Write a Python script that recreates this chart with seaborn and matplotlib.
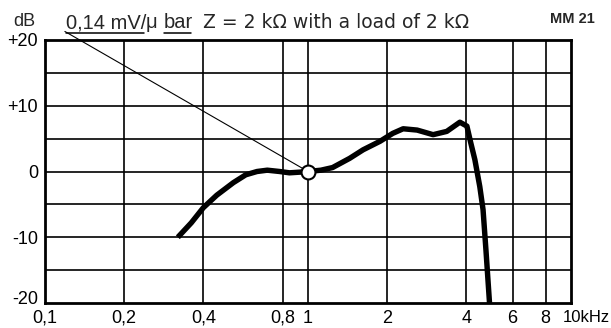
import matplotlib
matplotlib.use("Agg")
import matplotlib.pyplot as plt
import matplotlib.transforms as mtransforms
from matplotlib.ticker import FixedLocator, NullLocator
import pandas as pd
import seaborn as sns

# Frequency response of the MM 21 cartridge
freq_khz = [0.32, 0.36, 0.40, 0.45, 0.52, 0.58, 0.64, 0.70, 0.78, 0.85, 0.93, 1.0,
            1.12, 1.24, 1.44, 1.62, 1.88, 2.1, 2.3, 2.6, 2.99, 3.37, 3.78, 4.02,
            4.15, 4.31, 4.5, 4.63, 4.75, 4.9]
level_db = [-10.0, -7.8, -5.5, -3.6, -1.7, -0.5, 0.0, 0.2, 0.0, -0.2, -0.1, 0.0,
            0.2, 0.6, 2.0, 3.3, 4.6, 5.8, 6.5, 6.3, 5.6, 6.1, 7.5, 6.9,
            4.5, 1.8, -2.3, -5.8, -12.0, -20.0]

# Reference point and sensitivity pointer
ref_freq, ref_db = 1.0, 0.0
pointer_freq, pointer_db = 0.119, 21.3

x_ticks = [0.1, 0.2, 0.4, 0.8, 1, 2, 4, 6, 8, 10]
x_labels = ["0,1", "0,2", "0,4", "0,8", "1", "2", "4", "6", "8", "10kHz"]
y_ticks = [20, 10, 0, -10, -20]
y_labels = ["+20", "+10", "0", "-10", "-20"]
y_grid = [-15, -5, 5, 15]

sns.set_theme(style="white")
plt.rcParams["font.family"] = ["Liberation Sans", "DejaVu Sans"]

W, H = 611, 328
fig = plt.figure(figsize=(W / 100, H / 100), dpi=100)
ax = fig.add_axes([45 / W, 1 - 303 / H, 526 / W, 263 / H])

df = pd.DataFrame({"f": freq_khz, "db": level_db})
sns.lineplot(data=df, x="f", y="db", sort=False, ax=ax, color="black",
             linewidth=3.9, solid_capstyle="butt", solid_joinstyle="round",
             zorder=4)

ax.set_xscale("log")
ax.set_xlim(0.1, 10)
ax.set_ylim(-20, 20)

ax.xaxis.set_major_locator(FixedLocator(x_ticks))
ax.xaxis.set_minor_locator(NullLocator())
ax.set_xticks(x_ticks)
ax.set_xticklabels(x_labels)
ax.set_yticks(y_ticks)
ax.set_yticklabels(y_labels)
ax.tick_params(axis="both", length=0, labelsize=13, colors="black")
ax.tick_params(axis="x", pad=5)
ax.tick_params(axis="y", pad=5)
ax.set_xlabel("")
ax.set_ylabel("")

for t in ax.get_xticklabels():
    if t.get_text() == "10kHz":
        t.set_horizontalalignment("left")
        t.set_fontsize(12)
        t.set_transform(t.get_transform() + mtransforms.ScaledTranslation(
            -8 / 100, 0, fig.dpi_scale_trans))
for t in ax.get_yticklabels():
    if t.get_text() == "-20":
        t.set_transform(t.get_transform() + mtransforms.ScaledTranslation(
            0, 6 / 100, fig.dpi_scale_trans))

# grid
for x in x_ticks[1:-1]:
    ax.axvline(x, color="black", linewidth=1.2, zorder=1)
for y in y_ticks[1:-1] + y_grid:
    ax.axhline(y, color="black", linewidth=1.2, zorder=1)
for s in ax.spines.values():
    s.set_color("black")
    s.set_linewidth(2.0)

# pointer line and reference circle
ax.plot([ref_freq, pointer_freq], [ref_db, pointer_db], color="black",
        linewidth=0.8, clip_on=False, zorder=3)
ax.plot([ref_freq], [ref_db], marker="o", markersize=10, markerfacecolor="white",
        markeredgecolor="black", markeredgewidth=1.5, zorder=5)

# header texts
ty = 1 - 23 / H
fig.text(13 / W, 1 - 21 / H, "dB", fontsize=13, ha="left", va="center")
parts = [("0,14 mV/", True), ("μ ", False), ("bar", True)]
renderer = fig.canvas.get_renderer()
xpos = 66
for txt, underline in parts:
    t = fig.text(xpos / W, ty, txt, fontsize=14.5, ha="left", va="center")
    bb = t.get_window_extent(renderer=renderer)
    if underline:
        fig.add_artist(plt.Line2D([bb.x0 / W, (bb.x1 - 2) / W],
                                  [1 - 33 / H] * 2, color="black",
                                  linewidth=1.1))
    xpos = bb.x1
fig.text(203 / W, ty, "Z = 2 kΩ with a load of 2 kΩ", fontsize=13.5,
         family="DejaVu Sans", ha="left", va="center")
fig.text(550 / W, 1 - 19 / H, "MM 21", fontsize=10.5, fontweight="bold",
         ha="left", va="center")

fig.savefig("out.png", dpi=100, facecolor="white")
